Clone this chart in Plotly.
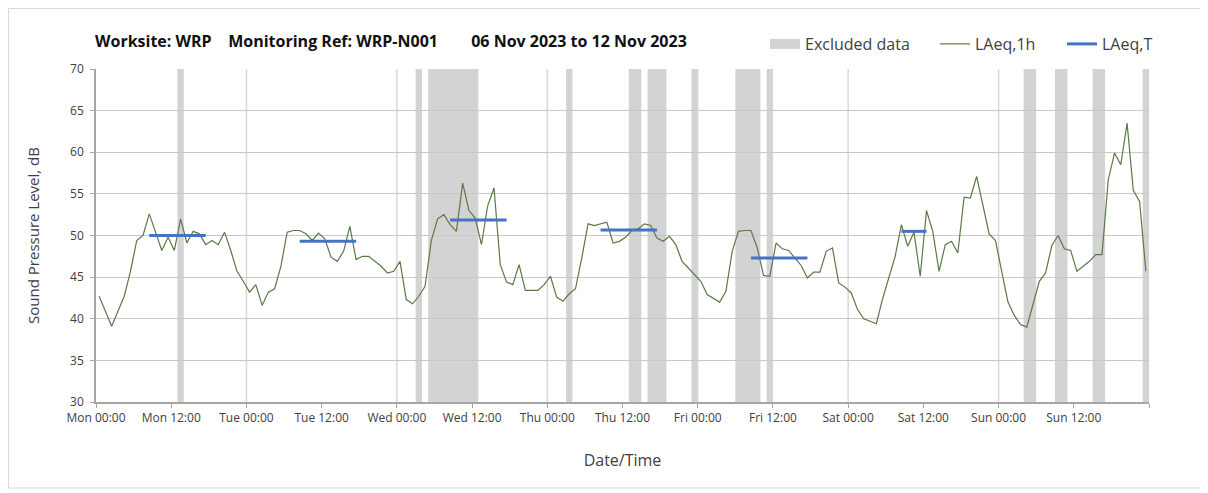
import plotly.graph_objects as go
import pandas as pd

# ---------------- data ----------------
period_start = "2023-11-06 00:00"
period_hours = 168

# hourly LAeq,1h values (dB), one per hour starting Mon 06 Nov 00:00
laeq_1h = [
    42.7, 40.9, 39.1, 40.9, 42.7, 45.7, 49.4, 50.0, 52.6, 50.4,
    48.2, 49.8, 48.2, 52.0, 49.1, 50.5, 50.2, 48.9, 49.4, 48.9,
    50.4, 48.2, 45.7, 44.5, 43.2, 44.1, 41.6, 43.2, 43.6, 46.3,
    50.4, 50.6, 50.6, 50.2, 49.4, 50.3, 49.6, 47.4, 46.9, 48.1,
    51.1, 47.1, 47.5, 47.5, 46.9, 46.3, 45.5, 45.7, 46.9, 42.3,
    41.8, 42.7, 43.9, 49.4, 52.0, 52.5, 51.3, 50.5, 56.3, 53.0,
    52.1, 48.9, 53.6, 55.7, 46.5, 44.4, 44.1, 46.5, 43.4, 43.4,
    43.4, 44.1, 45.1, 42.6, 42.1, 43.0, 43.6, 47.3, 51.4, 51.2,
    51.4, 51.6, 49.1, 49.3, 49.8, 50.6, 50.8, 51.4, 51.2, 49.7,
    49.3, 49.9, 48.9, 46.9, 46.1, 45.3, 44.5, 42.9, 42.4, 42.0,
    43.3, 48.1, 50.5, 50.6, 50.6, 48.5, 45.2, 45.1, 49.1, 48.4,
    48.2, 47.3, 46.4, 44.9, 45.6, 45.6, 48.1, 48.5, 44.3, 43.8,
    43.1, 41.1, 40.0, 39.7, 39.4, 42.4, 45.1, 47.5, 51.3, 48.7,
    50.4, 45.1, 53.0, 50.5, 45.7, 48.9, 49.3, 47.9, 54.6, 54.5,
    57.1, 53.6, 50.2, 49.4, 45.9, 42.0, 40.4, 39.3, 39.0, 41.7,
    44.5, 45.5, 48.8, 50.0, 48.4, 48.2, 45.7, 46.3, 46.9, 47.7,
    47.7, 56.7, 59.9, 58.5, 63.5, 55.4, 54.1, 45.7,
]

# LAeq,T daytime periods (start hour, end hour from period start) and levels
laeqT_start_h = [8.5, 32.5, 56.5, 80.5, 104.5, 128.5]
laeqT_end_h = [17.5, 41.5, 65.5, 89.5, 113.5, 132.5]
laeqT_values = [50.0, 49.3, 51.85, 50.65, 47.3, 50.5]

# excluded data periods (hours from period start)
excl_start_h = [13, 51, 53, 75, 85, 88, 95, 102, 107, 148, 153, 159, 167]
excl_end_h = [14, 52, 61, 76, 87, 91, 96, 106, 108, 150, 155, 161, 168]

tick_hours = list(range(0, period_hours + 1, 12))
day_boundaries_h = list(range(24, period_hours + 1, 24))

# ---------------- build ----------------
t0 = pd.Timestamp(period_start)
def at(h):
    return t0 + pd.Timedelta(hours=h)

t_1h = [at(i + 0.5) for i in range(len(laeq_1h))]

tx, ty = [], []
for s, e, v in zip(laeqT_start_h, laeqT_end_h, laeqT_values):
    tx += [at(s), at(e), None]
    ty += [v, v, None]

tickvals = [at(h) for h in tick_hours]
ticktext = [at(h).strftime("%a %H:%M") for h in tick_hours[:-1]] + [""]

FONT = "Open Sans"
TXT = "#404040"
W, H = 1208, 493
ML, MT = 88, 61
PW, PH = 1053, 333
MR, MB = W - ML - PW, H - MT - PH

def px_x(p):
    return (p - ML) / PW

def px_y(p):
    return (MT + PH - p) / PH

fig = go.Figure()

shapes = []
for h in day_boundaries_h:
    shapes.append(dict(type="line", xref="x", yref="paper", x0=at(h), x1=at(h),
                       y0=0, y1=1, line=dict(color="#d9d9d9", width=1.5), layer="below"))
for s, e in zip(excl_start_h, excl_end_h):
    shapes.append(dict(type="rect", xref="x", yref="y", x0=at(s), x1=at(e), y0=30, y1=70,
                       fillcolor="#d3d3d3", line=dict(width=0), layer="below"))
shapes.append(dict(type="rect", xref="paper", yref="paper",
                   x0=px_x(0.5), x1=px_x(1195), y0=px_y(480), y1=px_y(0.5),
                   line=dict(color="#d9d9d9", width=1), fillcolor="rgba(0,0,0,0)", layer="below"))

# legend entry for the excluded-data bands (bands themselves are shapes)
fig.add_trace(go.Scatter(x=[None], y=[None], mode="lines", name="Excluded data",
                         line=dict(color="#d3d3d3", width=11), legend="legend"))
fig.add_trace(go.Scatter(x=t_1h, y=laeq_1h, mode="lines", name="LAeq,1h",
                         line=dict(color="#5a7a45", width=1.2), legend="legend2"))
fig.add_trace(go.Scatter(x=tx, y=ty, mode="lines", name="LAeq,T",
                         line=dict(color="#4472c4", width=3), legend="legend3"))

title_txt = ("Worksite: WRP\u00a0\u00a0\u00a0\u00a0Monitoring Ref: WRP-N001"
             "\u00a0\u00a0\u00a0\u00a0\u00a0\u00a0\u00a0\u00a006 Nov 2023 to 12 Nov 2023")

def leg(xpx):
    return dict(orientation="h", x=px_x(xpx), xanchor="left", y=px_y(36), yanchor="middle",
                font=dict(family=FONT, size=16, color=TXT), bgcolor="rgba(0,0,0,0)",
                borderwidth=0)

fig.update_layout(
    width=W, height=H,
    margin=dict(l=ML, r=MR, t=MT, b=MB, autoexpand=False),
    paper_bgcolor="white", plot_bgcolor="white",
    font=dict(family=FONT, color=TXT, size=12),
    shapes=shapes,
    showlegend=True,
    title=dict(text="<b>" + title_txt + "</b>", xref="container", yref="container",
               x=87 / W, xanchor="left", y=1 - 33 / H, yanchor="middle",
               font=dict(family=FONT, size=16, color="#111111")),
    legend=leg(757),
    legend2=leg(927),
    legend3=leg(1054),
    xaxis=dict(type="date", range=[at(0), at(period_hours)], tickmode="array",
               tickvals=tickvals, ticktext=ticktext, showgrid=False,
               ticks="outside", ticklen=4, automargin=False,
               tickcolor="#a6a6a6", showline=True, linecolor="#a6a6a6", linewidth=1.5,
               tickfont=dict(size=12, color=TXT),
               title=dict(text="Date/Time", font=dict(size=16, color=TXT), standoff=30)),
    yaxis=dict(range=[30, 70], dtick=5, showgrid=True, gridcolor="#c8c8c8", gridwidth=1.2,
               ticks="outside", ticklen=4, tickcolor="#a6a6a6", showline=True, automargin=False,
               linecolor="#a6a6a6", linewidth=1.5, zeroline=False, ticklabelstandoff=4,
               tickfont=dict(size=12, color=TXT),
               title=dict(text="Sound Pressure Level, dB", font=dict(size=15, color=TXT), standoff=27)),
)

fig.write_html("out.html")
